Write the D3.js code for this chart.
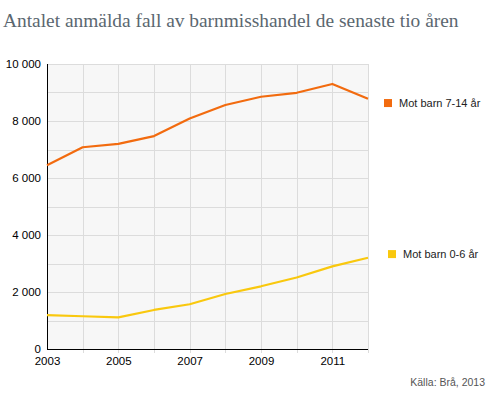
<!DOCTYPE html>
<html>
<head>
<meta charset="utf-8">
<script src="https://cdnjs.cloudflare.com/ajax/libs/d3/7.8.5/d3.min.js"></script>
<style>
  body { margin: 0; background: #fff; }
  svg { display: block; }
</style>
</head>
<body>
<div id="chart"></div>
<script>
const years = [2003, 2004, 2005, 2006, 2007, 2008, 2009, 2010, 2011, 2012];
const barn7_14 = [6450, 7080, 7200, 7470, 8090, 8560, 8850, 8990, 9300, 8780];
const barn0_6 = [1190, 1150, 1110, 1370, 1570, 1930, 2200, 2510, 2900, 3200];
const seriesNames = ["Mot barn 7-14 år", "Mot barn 0-6 år"];
const seriesColors = ["#f26b0f", "#f9c80e"];
const yTicks = [0, 2000, 4000, 6000, 8000, 10000];
const xTicks = [2003, 2005, 2007, 2009, 2011];

var margin = { top: 64, left: 47, right: 132, bottom: 45 },
  width = 500 - margin.left - margin.right,
  height = 394 - margin.top - margin.bottom;

var svg = d3
  .select("#chart")
  .append("svg")
  .attr("width", 500)
  .attr("height", 394);

svg
  .append("text")
  .attr("x", 3)
  .attr("y", 27)
  .attr("fill", "#5b6770")
  .style("font-family", "'Liberation Serif', 'DejaVu Serif', serif")
  .style("font-size", "19.4px")
  .text("Antalet anmälda fall av barnmisshandel de senaste tio åren");

var g = svg
  .append("g")
  .attr("transform", "translate(" + margin.left + "," + margin.top + ")");

var x = d3.scaleLinear().domain([2003, 2012]).range([0, width]);
var y = d3.scaleLinear().domain([0, 10000]).range([height, 0]);

g.append("rect")
  .attr("width", width)
  .attr("height", height)
  .attr("fill", "#f7f7f7");

// grid
g.append("g")
  .selectAll("line")
  .data(d3.range(1000, 10001, 1000))
  .enter()
  .append("line")
  .attr("x1", 0)
  .attr("x2", width)
  .attr("y1", (d) => Math.round(y(d)) + 0.5)
  .attr("y2", (d) => Math.round(y(d)) + 0.5)
  .attr("stroke", "#dcdcdc");

g.append("g")
  .selectAll("line")
  .data(years.slice(1))
  .enter()
  .append("line")
  .attr("x1", (d) => Math.round(x(d)) + 0.5)
  .attr("x2", (d) => Math.round(x(d)) + 0.5)
  .attr("y1", 0)
  .attr("y2", height + 4)
  .attr("stroke", "#dcdcdc");

// axes
var yAxis = g
  .append("g")
  .call(
    d3
      .axisLeft(y)
      .tickValues(yTicks)
      .tickFormat((d) => d3.format(",")(d).replace(",", " "))
      .tickSize(0)
      .tickPadding(6)
  );
yAxis.select(".domain").attr("stroke", "#000").attr("d", "M0.5,0V" + height);
yAxis.selectAll("text")
  .attr("fill", "#000")
  .style("font-family", "Arial, 'Liberation Sans', sans-serif")
  .style("font-size", "11.5px");

var xAxis = g
  .append("g")
  .attr("transform", "translate(0," + height + ")")
  .call(d3.axisBottom(x).tickValues(xTicks).tickFormat(d3.format("d")).tickSize(0).tickPadding(8));
xAxis.select(".domain").attr("stroke", "#000").attr("d", "M0,0.5H" + width);
xAxis.selectAll("text")
  .attr("fill", "#000")
  .style("font-family", "Arial, 'Liberation Sans', sans-serif")
  .style("font-size", "11.5px");

// lines
var line = d3
  .line()
  .x((d, i) => x(years[i]))
  .y((d) => y(d));

[barn7_14, barn0_6].forEach(function (vals, i) {
  g.append("path")
    .datum(vals)
    .attr("fill", "none")
    .attr("stroke", seriesColors[i])
    .attr("stroke-width", 2.2)
    .attr("stroke-linejoin", "round")
    .attr("d", line);
});

// legend, placed next to the end of each line
var legend = svg
  .append("g")
  .selectAll("g")
  .data([
    { name: seriesNames[0], color: seriesColors[0], lx: 384, ly: y(8630) + margin.top },
    { name: seriesNames[1], color: seriesColors[1], lx: 388, ly: y(3330) + margin.top },
  ])
  .enter()
  .append("g")
  .attr("transform", (d) => "translate(" + d.lx + "," + d.ly + ")");

legend
  .append("rect")
  .attr("x", 0)
  .attr("y", -4)
  .attr("width", 8)
  .attr("height", 8)
  .attr("fill", (d) => d.color);

legend
  .append("text")
  .attr("x", 15)
  .attr("dy", "0.35em")
  .attr("fill", "#222")
  .style("font-family", "Arial, 'Liberation Sans', sans-serif")
  .style("font-size", "11px")
  .text((d) => d.name);

svg
  .append("text")
  .attr("x", 485)
  .attr("y", 386)
  .attr("text-anchor", "end")
  .attr("fill", "#555")
  .style("font-family", "Arial, 'Liberation Sans', sans-serif")
  .style("font-size", "10.5px")
  .text("Källa: Brå, 2013");
</script>
</body>
</html>
